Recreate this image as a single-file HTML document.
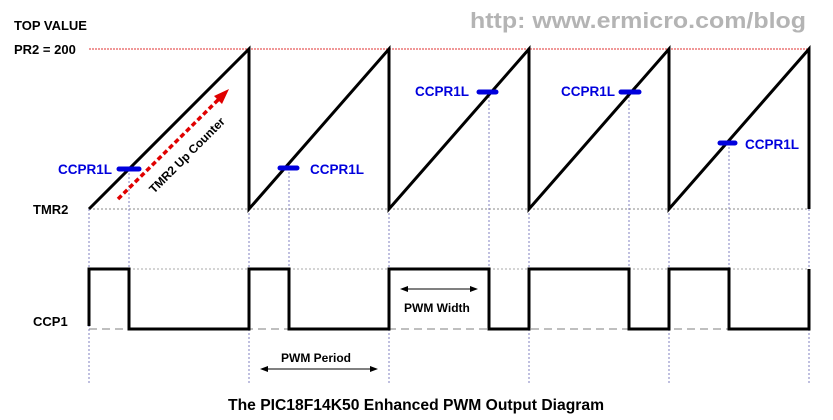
<!DOCTYPE html>
<html><head><meta charset="utf-8"><style>
html,body{margin:0;padding:0;background:#fff;}
svg{display:block;}
text{font-family:"Liberation Sans",Arial,sans-serif;font-weight:bold;}
</style></head><body>
<svg width="833" height="420" viewBox="0 0 833 420" xmlns="http://www.w3.org/2000/svg">
<text x="470" y="28" font-size="22" fill="#b4b4b4" textLength="336" lengthAdjust="spacingAndGlyphs">http: www.ermicro.com/blog</text>
<text x="14" y="30" font-size="13" fill="#000">TOP VALUE</text>
<text x="14" y="54" font-size="13" fill="#000">PR2 = 200</text>
<text x="33" y="214" font-size="13" fill="#000">TMR2</text>
<text x="33" y="326" font-size="13" fill="#000">CCP1</text>
<line x1="89" y1="49" x2="809" y2="49" stroke="#e03030" stroke-width="1" stroke-dasharray="2,1"/>
<line x1="89" y1="209" x2="809" y2="209" stroke="#888" stroke-width="1" stroke-dasharray="2,2"/>
<line x1="89" y1="269" x2="809" y2="269" stroke="#aaa" stroke-width="1" stroke-dasharray="2,2"/>
<line x1="89" y1="329" x2="809" y2="329" stroke="#999" stroke-width="1.3" stroke-dasharray="8,5"/>
<g stroke="#8080c0" stroke-width="1" stroke-dasharray="2,2">
<line x1="89" y1="209" x2="89" y2="384"/>
<line x1="249" y1="49" x2="249" y2="384"/>
<line x1="389" y1="49" x2="389" y2="384"/>
<line x1="529" y1="49" x2="529" y2="384"/>
<line x1="669" y1="49" x2="669" y2="384"/>
<line x1="809" y1="49" x2="809" y2="384"/>
<line x1="129" y1="169" x2="129" y2="269"/>
<line x1="289" y1="168" x2="289" y2="269"/>
<line x1="489" y1="92" x2="489" y2="269"/>
<line x1="629" y1="92" x2="629" y2="269"/>
<line x1="729" y1="143" x2="729" y2="269"/>
</g>
<polyline fill="none" stroke="#000" stroke-width="3" points="89,209 249,49 249,209 389,49 389,209 529,49 529,209 669,49 669,209 809,49 809,209"/>
<polyline fill="none" stroke="#000" stroke-width="3" points="89,326 89,269 129,269 129,329 249,329 249,269 289,269 289,329 389,329 389,269 489,269 489,329 529,329 529,269 629,269 629,329 669,329 669,269 729,269 729,329 809,329 809,269"/>
<g stroke="#0000dd" stroke-width="5" stroke-linecap="round">
<line x1="119" y1="169" x2="139" y2="169"/>
<line x1="280" y1="168" x2="297" y2="168"/>
<line x1="479" y1="92" x2="496" y2="92"/>
<line x1="621" y1="92" x2="639" y2="92"/>
<line x1="720" y1="143" x2="735" y2="143"/>
</g>
<g font-size="13.5" fill="#0000dd">
<text x="58" y="174">CCPR1L</text>
<text x="310" y="174">CCPR1L</text>
<text x="415" y="96">CCPR1L</text>
<text x="561" y="96">CCPR1L</text>
<text x="745" y="149">CCPR1L</text>
</g>
<line x1="118" y1="199" x2="222" y2="96" stroke="#e00000" stroke-width="3.5" stroke-dasharray="5,3"/>
<polygon points="229,89 214,96 222,104" fill="#e00000"/>
<text x="0" y="0" font-size="12" fill="#000" transform="translate(154,194) rotate(-45)">TMR2 Up Counter</text>
<line x1="264" y1="369" x2="374" y2="369" stroke="#000" stroke-width="1"/>
<polygon points="260,369 268,366 268,372" fill="#000"/>
<polygon points="378,369 370,366 370,372" fill="#000"/>
<text x="281" y="362" font-size="12" fill="#000">PWM Period</text>
<line x1="404" y1="289" x2="474" y2="289" stroke="#000" stroke-width="1"/>
<polygon points="400,289 408,286 408,292" fill="#000"/>
<polygon points="478,289 470,286 470,292" fill="#000"/>
<text x="404" y="312" font-size="12" fill="#000">PWM Width</text>
<text x="228" y="410" font-size="15.5" fill="#000" textLength="376" lengthAdjust="spacingAndGlyphs">The PIC18F14K50 Enhanced PWM Output Diagram</text>
</svg>
</body></html>
